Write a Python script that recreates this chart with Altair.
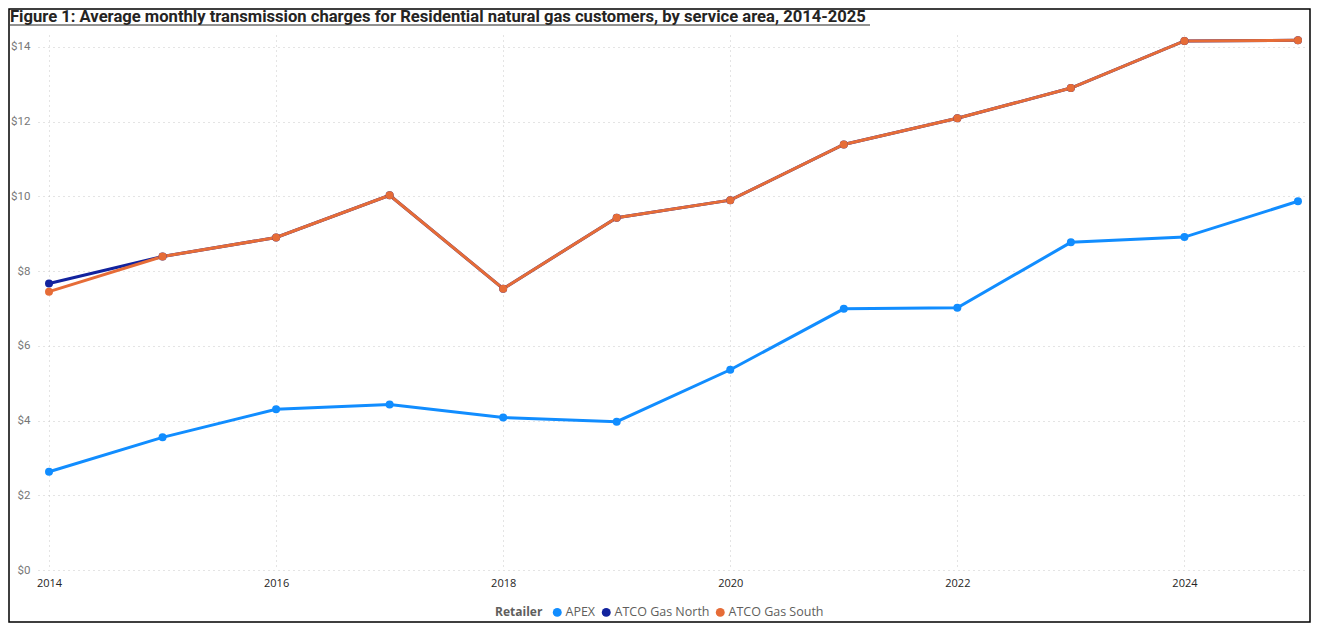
import altair as alt
import pandas as pd

years = list(range(2014, 2026))
apex = [2.63, 3.55, 4.30, 4.43, 4.08, 3.97, 5.36, 6.99, 7.02, 8.77, 8.91, 9.87]
atco_north = [7.67, 8.39, 8.90, 10.03, 7.53, 9.43, 9.90, 11.39, 12.09, 12.90, 14.16, 14.18]
atco_south = [7.45, 8.39, 8.90, 10.03, 7.53, 9.43, 9.90, 11.39, 12.09, 12.90, 14.16, 14.18]
retailers = ["APEX", "ATCO Gas North", "ATCO Gas South"]
colors = ["#118DFF", "#12239E", "#E66C37"]
x_ticks = [2014, 2016, 2018, 2020, 2022, 2024]
y_ticks = [0, 2, 4, 6, 8, 10, 12, 14]
title_text = "Figure 1: Average monthly transmission charges for Residential natural gas customers, by service area, 2014-2025"

rows = []
for name, vals in zip(retailers, [apex, atco_north, atco_south]):
    for y, v in zip(years, vals):
        rows.append({"Year": y, "Charge": v, "Retailer": name})
df = pd.DataFrame(rows)

W, H = 1267, 535

color = alt.Color(
    "Retailer:N",
    scale=alt.Scale(domain=retailers, range=colors),
    legend=alt.Legend(
        title="Retailer", orient="none", direction="horizontal", titleOrient="left",
        legendX=457, legendY=571, symbolType="circle", symbolSize=80,
        titleFont="Segoe UI, Open Sans", titleFontSize=12, titleColor="#605E5C",
        titleFontWeight="bold", titlePadding=8,
        labelFont="Segoe UI, Open Sans", labelFontSize=12.5, labelColor="#605E5C",
        labelOffset=2, columnPadding=4, symbolStrokeWidth=0,
    ),
)

x = alt.X("Year:Q", scale=alt.Scale(domain=[2013.903, 2025.062], nice=False, zero=False),
          axis=alt.Axis(values=x_ticks, format="d", title=None, grid=True, domain=False, ticks=False,
                        labelFont="Segoe UI, Open Sans", labelFontSize=11, labelColor="#252423",
                        labelPadding=7, gridDash=[1, 4], gridColor="#C8C8C8"))
y = alt.Y("Charge:Q", scale=alt.Scale(domain=[0, 14.32], nice=False),
          axis=alt.Axis(values=y_ticks, format="$.0f", title=None, grid=True, domain=False, ticks=False,
                        labelFont="Roboto", labelFontSize=11.5, labelColor="#777777",
                        labelPadding=8, gridDash=[1, 4], gridColor="#C8C8C8"))

base = alt.Chart(df).encode(x=x, y=y, color=color, detail="Retailer:N", order="Year:Q")
lines = base.mark_line(strokeWidth=3)
points = base.mark_point(filled=True, size=64, opacity=1)

frame = alt.Chart(pd.DataFrame({"k": [0]})).mark_rect(fill=None, stroke="#000000", strokeWidth=1.5).encode(
    x=alt.value(-29), x2=alt.value(1272), y=alt.value(-26), y2=alt.value(587))

title = alt.Chart(pd.DataFrame({"t": [title_text]})).mark_text(
    align="left", baseline="alphabetic", font="Roboto", fontSize=16.6, fontWeight="bold", color="#252423"
).encode(text="t:N", x=alt.value(-28), y=alt.value(-13))

underline = alt.Chart(pd.DataFrame({"k": [0]})).mark_rule(color="#252423", strokeWidth=1).encode(
    x=alt.value(-28), x2=alt.value(832), y=alt.value(-10))

chart = alt.layer(frame, lines, points, title, underline).properties(
    width=W, height=H,
    autosize=alt.AutoSizeParams(type="none"),
    padding={"left": 30, "top": 27, "right": 6, "bottom": 53},
).configure_view(stroke=None)

chart.save("out.html", embed_options={"renderer": "svg", "actions": False})
